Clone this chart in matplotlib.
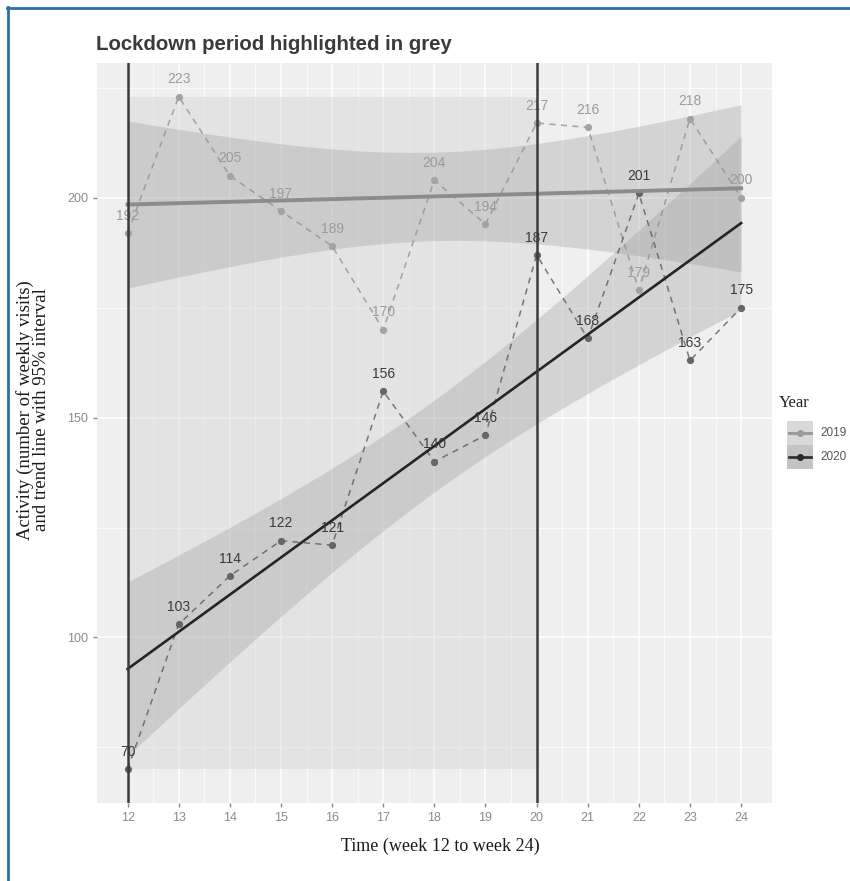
import numpy as np
import matplotlib
matplotlib.use("Agg")
import matplotlib.pyplot as plt
from matplotlib.patches import Rectangle
from matplotlib.lines import Line2D

weeks = [12, 13, 14, 15, 16, 17, 18, 19, 20, 21, 22, 23, 24]
visits_2019 = [192, 223, 205, 197, 189, 170, 204, 194, 217, 216, 179, 218, 200]
visits_2020 = [70, 103, 114, 122, 121, 156, 140, 146, 187, 168, 201, 163, 175]
years = ["2019", "2020"]
lockdown_start, lockdown_end = 12, 20
x_ticks = weeks
y_ticks = [100, 150, 200]

T975 = 2.201  # t quantile, 11 df

fig = plt.figure(figsize=(8.5, 8.81), dpi=100)
ax = fig.add_axes([0.114, 0.0885, 0.794, 0.84])

xmin, xmax = min(weeks), max(weeks)
allv = visits_2019 + visits_2020
ymin, ymax = min(allv), max(allv)
xr = xmax - xmin
yr = ymax - ymin
ax.set_xlim(xmin - 0.05 * xr, xmax + 0.05 * xr)
ax.set_ylim(ymin - 0.05 * yr, ymax + 0.05 * yr)

ax.set_facecolor("#efefef")
for s in ax.spines.values():
    s.set_visible(False)

# grid
for xv in weeks:
    ax.axvline(xv, color="white", lw=1.1, zorder=0.5)
for xv in np.array(weeks[:-1]) + 0.5:
    ax.axvline(xv, color="white", lw=0.5, zorder=0.5)
for yv in y_ticks:
    ax.axhline(yv, color="white", lw=1.1, zorder=0.5)
for yv in [75, 125, 175, 225]:
    ax.axhline(yv, color="white", lw=0.5, zorder=0.5)

# lockdown rectangle
ax.add_patch(Rectangle((lockdown_start, ymin), lockdown_end - lockdown_start, ymax - ymin,
                       facecolor="#c8c8c8", alpha=0.3, edgecolor="none", zorder=1))

series = [
    (visits_2019, "#a3a3a3", "#9a9a9a", "#8c8c8c", 2.8, "#909090"),
    (visits_2020, "#666666", "#3a3a3a", "#252525", 1.9, "#5a5a5a"),
]

x = np.array(weeks, dtype=float)
xs = np.linspace(xmin, xmax, 100)
for vals, pcol, lcol, tcol, tlw, dcol in series:
    y = np.array(vals, dtype=float)
    b, a = np.polyfit(x, y, 1)
    resid = y - (a + b * x)
    n = len(x)
    s = np.sqrt(np.sum(resid ** 2) / (n - 2))
    sxx = np.sum((x - x.mean()) ** 2)
    fit = a + b * xs
    se = s * np.sqrt(1 / n + (xs - x.mean()) ** 2 / sxx)
    ax.fill_between(xs, fit - T975 * se, fit + T975 * se, color="#999999", alpha=0.32,
                    lw=0, zorder=2)
    ax.plot(x, y, ls=(0, (4, 3.5)), color=dcol, lw=1.1, alpha=0.8, zorder=3)
    ax.plot(x, y, "o", color=pcol, ms=4.2, zorder=4)
    ax.plot(xs, fit, color=tcol, lw=tlw, zorder=5)
    for xi, yi in zip(weeks, vals):
        ax.annotate(str(yi), (xi, yi), xytext=(0, 12.5), textcoords="offset points",
                    ha="center", va="center", fontsize=10, color=lcol,
                    family="Liberation Sans", zorder=6)

for xv in (lockdown_start, lockdown_end):
    ax.axvline(xv, color="#3a3a3a", lw=1.8, zorder=7)

ax.set_xticks(x_ticks)
ax.set_yticks(y_ticks)
ax.tick_params(axis="both", colors="#888888", labelcolor="#8a8a8a", length=3, width=1,
               labelsize=9)
for lab in ax.get_xticklabels() + ax.get_yticklabels():
    lab.set_family("Liberation Sans")


def fx(px):
    return px / 850


def fy(py):
    return 1 - py / 881


fig.text(fx(440), fy(846), "Time (week 12 to week 24)", family="Liberation Serif",
         fontsize=13, color="#1a1a1a", ha="center", va="center")
fig.text(fx(33), fy(410), "Activity (number of weekly visits)\nand trend line with 95% interval",
         family="Liberation Serif", fontsize=13.5, color="#1a1a1a", ha="center", va="center",
         rotation=90, linespacing=0.92, multialignment="center")

fig.text(fx(96), fy(45), "Lockdown period highlighted in grey", fontsize=14.7,
         fontweight="bold", color="#3a3a3a", family="Liberation Sans", va="center", ha="left")

# legend (manual)
fig.text(fx(779), fy(403), "Year", family="Liberation Serif", fontsize=12, color="#222222",
         va="center", ha="left")
key_colors = ["#d9d9d9", "#c4c4c4"]
key_lines = [("#9a9a9a", 2.2), ("#2a2a2a", 1.9)]
for i, yr_lab in enumerate(years):
    top = 421 + i * 24
    fig.patches.append(Rectangle((fx(787), fy(top + 24)), fx(813) - fx(787), fy(top) - fy(top + 24),
                                 transform=fig.transFigure, facecolor=key_colors[i],
                                 edgecolor="none"))
    cy = fy(top + 12)
    fig.lines.append(Line2D([fx(789), fx(811)], [cy, cy], transform=fig.transFigure,
                            color=key_lines[i][0], lw=key_lines[i][1]))
    fig.lines.append(Line2D([fx(800)], [cy], transform=fig.transFigure, marker="o",
                            ms=4, color=key_lines[i][0]))
    fig.text(fx(820), cy, yr_lab, family="Liberation Sans", fontsize=8.5, color="#555555",
             va="center", ha="left")

# blue frame (left and top edges)
fig.lines.append(Line2D([fx(8), fx(8)], [fy(7), 0], transform=fig.transFigure,
                        color="#2f6db3", lw=2))
fig.lines.append(Line2D([fx(7), 1], [fy(7.5), fy(7.5)], transform=fig.transFigure,
                        color="#2f6db3", lw=2))

fig.savefig("out.png", dpi=100)
